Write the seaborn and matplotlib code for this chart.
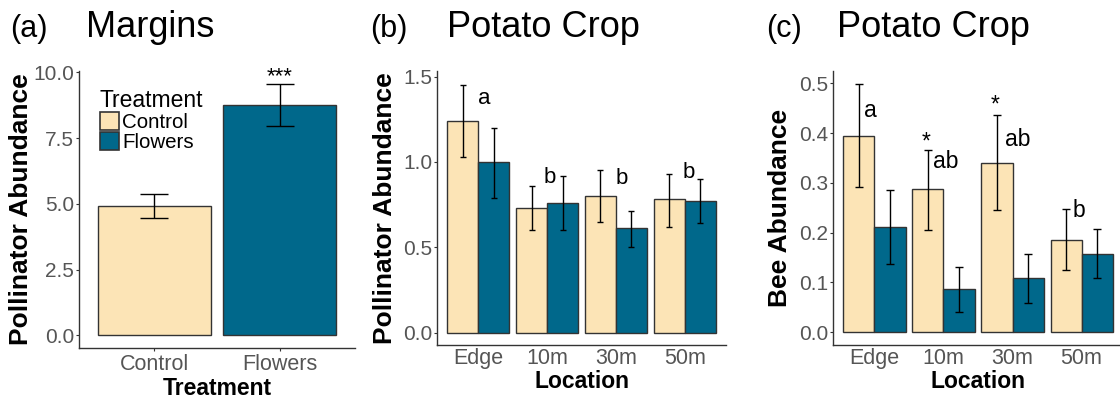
import numpy as np
import pandas as pd
import matplotlib
matplotlib.use("Agg")
import matplotlib.pyplot as plt
import seaborn as sns

# ---- data -------------------------------------------------------------
treatments = ["Control", "Flowers"]
locations = ["Edge", "10m", "30m", "50m"]

# (a) margins: pollinator abundance by treatment
a_mean = [4.90, 8.75]
a_lo = [4.45, 7.95]
a_hi = [5.37, 9.57]

# (b) potato crop: pollinator abundance by location
b_control = [1.24, 0.73, 0.80, 0.78]
b_control_lo = [1.03, 0.60, 0.65, 0.62]
b_control_hi = [1.45, 0.86, 0.95, 0.93]
b_flowers = [1.00, 0.76, 0.61, 0.77]
b_flowers_lo = [0.79, 0.60, 0.50, 0.64]
b_flowers_hi = [1.20, 0.92, 0.71, 0.90]

# (c) potato crop: bee abundance by location
c_control = [0.395, 0.287, 0.340, 0.186]
c_control_lo = [0.292, 0.206, 0.245, 0.125]
c_control_hi = [0.499, 0.367, 0.436, 0.248]
c_flowers = [0.211, 0.086, 0.108, 0.158]
c_flowers_lo = [0.137, 0.041, 0.058, 0.109]
c_flowers_hi = [0.286, 0.131, 0.157, 0.207]

# significance letters (text, x offset from group, y)
b_letters = [("a", 0.09, 1.337), ("b", 0.04, 0.877), ("b", 0.09, 0.870), ("b", 0.06, 0.907)]
c_letters = [("a", -0.06, 0.432), ("*", -0.25, 0.370), ("ab", 0.03, 0.329),
             ("*", -0.25, 0.444), ("ab", 0.07, 0.375), ("b", -0.04, 0.2315)]

# ---- style ------------------------------------------------------------
sns.set_theme(style="ticks")
plt.rcParams["font.family"] = ["Liberation Sans", "DejaVu Sans"]
plt.rcParams["text.color"] = "black"
plt.rcParams["axes.labelcolor"] = "black"

palette = {"Control": "#FCE4B6", "Flowers": "#00688B"}
edge_col = "#333333"
tick_col = "#555555"
W, H = 1120, 398

fig = plt.figure(figsize=(W / 100, H / 100), dpi=100)


def px_axes(left, right, top, bottom):
    return fig.add_axes([left / W, 1 - bottom / H, (right - left) / W, (bottom - top) / H])


def style_axes(ax, xticks=True):
    for s in ("top", "right"):
        ax.spines[s].set_visible(False)
    for s in ("left", "bottom"):
        ax.spines[s].set_color(edge_col)
        ax.spines[s].set_linewidth(1.0)
    ax.tick_params(axis="y", labelsize=15, colors=edge_col, labelcolor=tick_col,
                   length=2.5, width=0.8, pad=1)
    ax.tick_params(axis="x", labelsize=15.5, colors=edge_col, labelcolor=tick_col,
                   length=2.5 if xticks else 0, width=0.8, pad=2)


def add_errorbars(ax, lows, highs, capsize):
    for cont, lo, hi in zip(ax.containers, lows, highs):
        for bar, l, h in zip(cont, lo, hi):
            xc = bar.get_x() + bar.get_width() / 2
            y = bar.get_height()
            ax.errorbar([xc], [y], yerr=[[y - l], [h - y]], fmt="none",
                        ecolor="black", elinewidth=1.0, capsize=capsize,
                        capthick=1.0, zorder=5)


# ---- (a) Margins -------------------------------------------------------
ax_a = px_axes(79, 355, 71, 348)
df_a = pd.DataFrame({"Treatment": treatments, "Abundance": a_mean})
sns.barplot(data=df_a, x="Treatment", y="Abundance", hue="Treatment",
            palette=palette, saturation=1, width=0.9, edgecolor=edge_col,
            linewidth=1.0, errorbar=None, legend=True, ax=ax_a)
add_errorbars(ax_a, [[a_lo[0]], [a_lo[1]]], [[a_hi[0]], [a_hi[1]]], capsize=10)
ax_a.set_xlim(-0.6, 1.6)
ax_a.set_ylim(-0.48, 10.05)
ax_a.set_yticks([0, 2.5, 5, 7.5, 10])
ax_a.set_yticklabels(["0.0", "2.5", "5.0", "7.5", "10.0"])
style_axes(ax_a, xticks=True)
ax_a.set_xlabel("Treatment", fontsize=16.5, fontweight="bold", labelpad=1)
ax_a.set_ylabel("Pollinator Abundance", fontsize=19, fontweight="bold", labelpad=0)
ax_a.text(1, 9.62, "***", ha="center", va="baseline", fontsize=16)
handles, labels = ax_a.get_legend_handles_labels()
leg = ax_a.legend(handles, labels, title="Treatment", loc="upper left",
                  bbox_to_anchor=(0.075, 0.935), frameon=False, fontsize=14.8,
                  title_fontsize=16.5, handlelength=0.95, handleheight=0.95,
                  handletextpad=0.15, labelspacing=0.0, borderpad=0,
                  borderaxespad=0, alignment="left")
for h in leg.legend_handles:
    h.set_edgecolor(edge_col)
    h.set_linewidth(1.2)

# ---- (b) and (c) Potato crop -------------------------------------------
def crop_panel(ax, control, flowers, lows, highs, capsize):
    df = pd.DataFrame({
        "Location": locations * 2,
        "Treatment": ["Control"] * 4 + ["Flowers"] * 4,
        "Abundance": list(control) + list(flowers),
    })
    sns.barplot(data=df, x="Location", y="Abundance", hue="Treatment",
                order=locations, hue_order=treatments, palette=palette,
                saturation=1, width=0.9, gap=0, edgecolor=edge_col,
                linewidth=1.0, errorbar=None, legend=False, ax=ax)
    add_errorbars(ax, lows, highs, capsize)
    ax.set_xlim(-0.6, 3.6)
    style_axes(ax, xticks=False)
    ax.set_xlabel("Location", fontsize=16.5, fontweight="bold", labelpad=1)


ax_b = px_axes(437, 726, 71, 345)
crop_panel(ax_b, b_control, b_flowers, [b_control_lo, b_flowers_lo],
           [b_control_hi, b_flowers_hi], capsize=2.5)
ax_b.set_ylim(-0.073, 1.533)
ax_b.set_yticks([0, 0.5, 1.0, 1.5])
ax_b.set_yticklabels(["0.0", "0.5", "1.0", "1.5"])
ax_b.set_ylabel("Pollinator Abundance", fontsize=19, fontweight="bold", labelpad=4)
for i, (t, dx, y) in enumerate(b_letters):
    ax_b.text(i + dx, y, t, ha="center", va="baseline", fontsize=16)

ax_c = px_axes(833, 1123, 70.5, 345)
crop_panel(ax_c, c_control, c_flowers, [c_control_lo, c_flowers_lo],
           [c_control_hi, c_flowers_hi], capsize=2.9)
ax_c.set_ylim(-0.026, 0.526)
ax_c.set_yticks([0, 0.1, 0.2, 0.3, 0.4, 0.5])
ax_c.set_yticklabels(["0.0", "0.1", "0.2", "0.3", "0.4", "0.5"])
ax_c.set_ylabel("Bee Abundance", fontsize=19, fontweight="bold", labelpad=5)
c_groups = [0, 1, 1, 2, 2, 3]
for g, (t, dx, y) in zip(c_groups, c_letters):
    ax_c.text(g + dx, y, t, ha="center", va="baseline", fontsize=16.5)

# ---- panel titles ------------------------------------------------------
def fig_text(x, y, s, size):
    fig.text(x / W, 1 - y / H, s, fontsize=size, ha="left", va="baseline")

fig_text(10, 37, "(a)", 22)
fig_text(86, 37, "Margins", 26)
fig_text(370, 37, "(b)", 22)
fig_text(447, 37, "Potato Crop", 26)
fig_text(766, 37, "(c)", 22)
fig_text(837, 37, "Potato Crop", 26)

fig.savefig("out.png", dpi=100)
